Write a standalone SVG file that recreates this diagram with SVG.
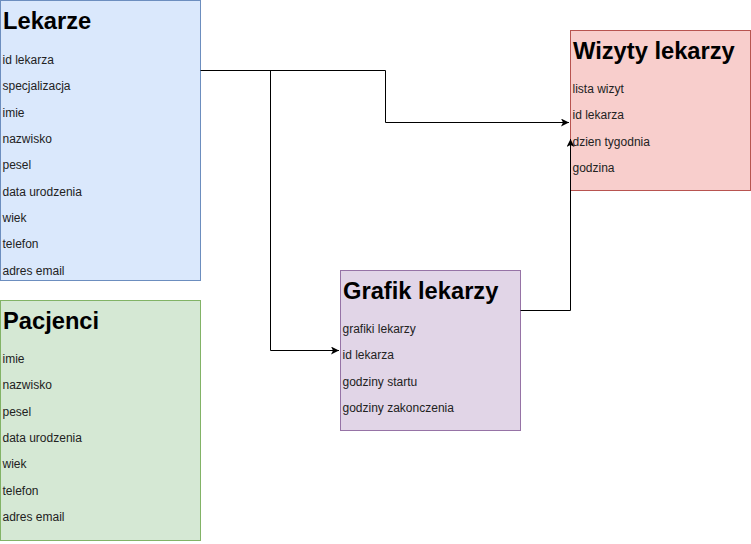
<svg xmlns="http://www.w3.org/2000/svg" width="751" height="544" viewBox="0 0 751 544">
<defs>
<style>
.t{font-family:"Liberation Sans",Arial,sans-serif;font-weight:bold;font-size:23.7px;fill:#000}
.i{font-family:"Liberation Sans",Arial,sans-serif;font-size:12px;fill:#222}
.e{fill:none;stroke:#000;stroke-width:1}
</style>
<marker id="arr" markerWidth="10" markerHeight="10" refX="8" refY="4" orient="auto" markerUnits="userSpaceOnUse">
<path d="M0,0 L8,4 L0,8 L2,4 Z" fill="#000"/>
</marker>
</defs>
<rect width="751" height="544" fill="#fff"/>
<g id="lekarze">
<rect x="0.5" y="0.5" width="200" height="280" fill="#dae8fc" stroke="#6c8ebf"/>
<text class="t" x="3" y="29">Lekarze</text>
<text class="i" x="2.5" y="64">id lekarza</text>
<text class="i" x="2.5" y="90">specjalizacja</text>
<text class="i" x="2.5" y="117">imie</text>
<text class="i" x="2.5" y="143">nazwisko</text>
<text class="i" x="2.5" y="169">pesel</text>
<text class="i" x="2.5" y="196">data urodzenia</text>
<text class="i" x="2.5" y="222">wiek</text>
<text class="i" x="2.5" y="248">telefon</text>
<text class="i" x="2.5" y="275">adres email</text>
</g>
<g id="pacjenci">
<rect x="0.5" y="300.5" width="200" height="240" fill="#d5e8d4" stroke="#82b366"/>
<text class="t" x="3" y="329">Pacjenci</text>
<text class="i" x="2.5" y="363">imie</text>
<text class="i" x="2.5" y="389">nazwisko</text>
<text class="i" x="2.5" y="416">pesel</text>
<text class="i" x="2.5" y="442">data urodzenia</text>
<text class="i" x="2.5" y="468">wiek</text>
<text class="i" x="2.5" y="495">telefon</text>
<text class="i" x="2.5" y="521">adres email</text>
</g>
<g id="wizyty">
<rect x="570.5" y="30.5" width="180" height="160" fill="#f8cecc" stroke="#b85450"/>
<text class="t" x="573" y="59">Wizyty lekarzy</text>
<text class="i" x="572.5" y="93">lista wizyt</text>
<text class="i" x="572.5" y="119">id lekarza</text>
<text class="i" x="572.5" y="146">dzien tygodnia</text>
<text class="i" x="572.5" y="172">godzina</text>
</g>
<g id="grafik">
<rect x="340.5" y="270.5" width="180" height="160" fill="#e1d5e7" stroke="#9673a6"/>
<text class="t" x="343" y="299">Grafik lekarzy</text>
<text class="i" x="342.5" y="333">grafiki lekarzy</text>
<text class="i" x="342.5" y="359">id lekarza</text>
<text class="i" x="342.5" y="386">godziny startu</text>
<text class="i" x="342.5" y="412">godziny zakonczenia</text>
</g>
<g id="connectors">
<path class="e" d="M200.5,70.5 H385.5 V122.5 H569" marker-end="url(#arr)"/>
<path class="e" d="M270.5,70.5 V350.5 H339" marker-end="url(#arr)"/>
<path class="e" d="M520.5,310.5 H570.5 V139" marker-end="url(#arr)"/>
</g>
</svg>
